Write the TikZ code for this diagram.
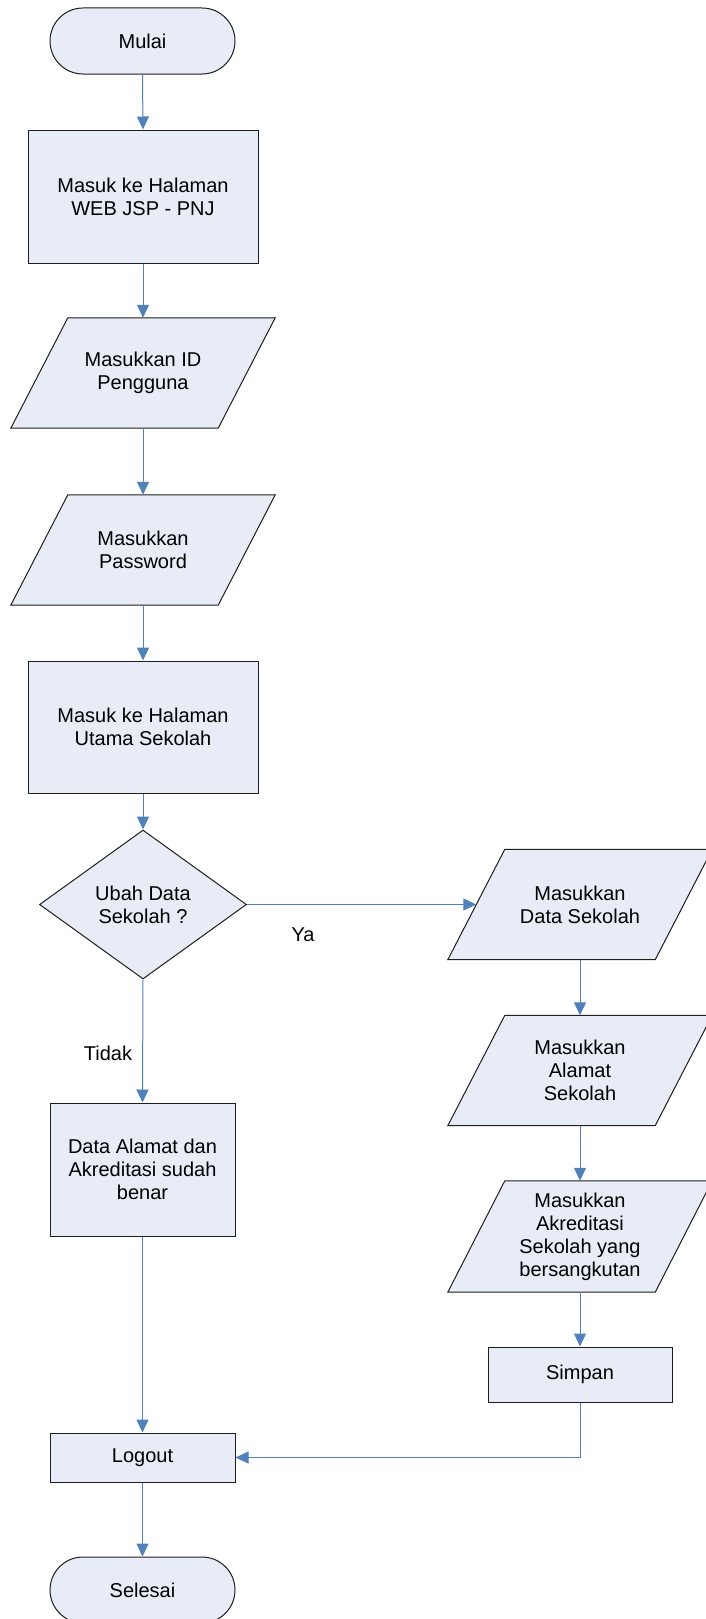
\documentclass[tikz,border=0pt]{standalone}
\usepackage{fontspec}
\setmainfont{Liberation Sans}
\usetikzlibrary{shapes.geometric,arrows.meta}
\definecolor{boxfill}{RGB}{231,236,247}
\definecolor{linkblue}{RGB}{79,129,189}
\definecolor{edgegray}{RGB}{30,30,30}
\pgfdeclarelayer{background}
\pgfsetlayers{background,main}
\begin{document}
\begin{tikzpicture}[x=1pt,y=-1pt,
  every node/.style={font=\fontsize{20}{23}\selectfont, align=center},
  base/.style={draw=edgegray, line width=1pt, fill=boxfill, inner sep=0pt},
  terminal/.style={base, rectangle, rounded corners=33pt, minimum width=185pt, minimum height=66pt},
  procbox/.style={base, rectangle},
  iobox/.style={rectangle, inner sep=0pt, minimum width=207pt, minimum height=110pt},
  decide/.style={base, diamond, minimum width=207pt, minimum height=149pt},
  link/.style={draw=linkblue, line width=1pt, -{Triangle[width=12pt,length=13pt]}},
  lbl/.style={font=\fontsize{20}{23}\selectfont}
]
\useasboundingbox (0,0) rectangle (705,1619);

\node[terminal] (mulai) at (142.5,41) {Mulai};
\node[procbox, minimum width=230pt, minimum height=133pt] (web) at (143,196.5) {Masuk ke Halaman\\WEB JSP - PNJ};
\node[iobox] (id) at (143,373) {Masukkan ID\\Pengguna};
\node[iobox] (pw) at (143,550) {Masukkan\\Password};
\node[procbox, minimum width=230pt, minimum height=132pt] (utama) at (143,727) {Masuk ke Halaman\\Utama Sekolah};
\node[decide] (ubah) at (143,904.5) {Ubah Data\\Sekolah ?};
\node[procbox, minimum width=185pt, minimum height=133pt] (benar) at (142.5,1169.5) {Data Alamat dan\\Akreditasi sudah\\benar};
\node[procbox, minimum width=185pt, minimum height=49pt] (logout) at (142.5,1457.5) {Logout};
\node[terminal] (selesai) at (142.5,1590) {Selesai};

\node[iobox] (data) at (580,904.5) {Masukkan\\Data Sekolah};
\node[iobox] (alamat) at (580,1070.5) {Masukkan\\Alamat\\Sekolah};
\node[iobox, minimum height=111pt] (akred) at (580,1236.5) {Masukkan\\Akreditasi\\Sekolah yang\\bersangkutan};
\node[procbox, minimum width=184pt, minimum height=55pt] (simpan) at (580,1374.5) {Simpan};

\begin{pgfonlayer}{background}
\foreach \p in {id,pw,data,alamat,akred}{
  \draw[base] ([xshift=28.5pt]\p.north west) -- ([xshift=28.5pt]\p.north east)
    -- ([xshift=-28.5pt]\p.south east) -- ([xshift=-28.5pt]\p.south west) -- cycle;
}
\end{pgfonlayer}

\node[lbl] (ya) at (303,935) {Ya};
\node[lbl] (tidak) at (108,1053) {Tidak};

\draw[link] (mulai.south) -- (web.north);
\draw[link] (web.south) -- (id.north);
\draw[link] (id.south) -- (pw.north);
\draw[link] (pw.south) -- (utama.north);
\draw[link] (utama.south) -- (ubah.north);
\draw[link] (ubah.east) -- (data.west);
\draw[link] (ubah.south) -- (benar.north);
\draw[link] (benar.south) -- (logout.north);
\draw[link] (logout.south) -- (selesai.north);
\draw[link] (data.south) -- (alamat.north);
\draw[link] (alamat.south) -- (akred.north);
\draw[link] (akred.south) -- (simpan.north);
\draw[link] (simpan.south) |- (logout.east);
\end{tikzpicture}
\end{document}
